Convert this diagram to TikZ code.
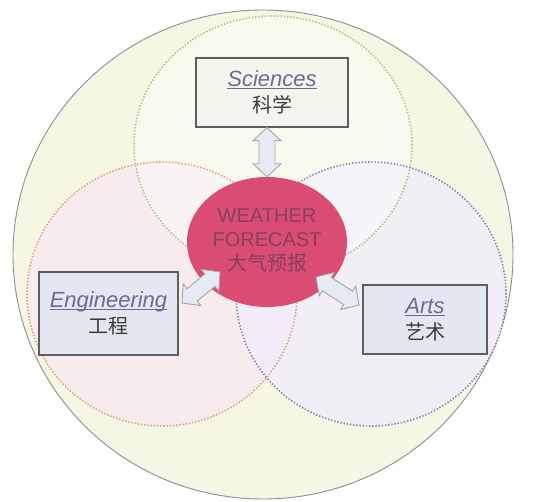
\documentclass[tikz,border=0pt]{standalone}
\usepackage{fontspec}
\setmainfont{Liberation Sans}
\newfontfamily\cjk{Noto Sans CJK SC}
\usetikzlibrary{shapes.geometric,calc}
\definecolor{bgyellow}{HTML}{F5F6E3}
\definecolor{rimgray}{HTML}{8E8E8E}
\definecolor{pinkfill}{HTML}{F8EAF0}
\definecolor{lavfill}{HTML}{F1EDFA}
\definecolor{greendot}{HTML}{A6C888}
\definecolor{orangedot}{HTML}{E0A27C}
\definecolor{purpledot}{HTML}{8484B4}
\definecolor{wfpink}{HTML}{DA4C72}
\definecolor{wftext}{HTML}{86425C}
\definecolor{catcol}{HTML}{6C6A92}
\definecolor{cncol}{HTML}{3C3C3C}
\definecolor{boxline}{HTML}{5E5E5E}
\definecolor{boxblue}{HTML}{E3E7F1}
\definecolor{boxcream}{HTML}{F5F5EE}
\definecolor{arrowfill}{HTML}{E6EAF3}
\definecolor{arrowgray}{HTML}{A2A6AC}
\newsavebox\ulbox
\newcommand\catname[1]{\sbox\ulbox{\color{catcol}\itshape #1}{\color{catcol}\rlap{\rule[-2.5pt]{\wd\ulbox}{1pt}}}\usebox\ulbox}
\newcommand\cnname[1]{{\cjk\fontsize{20}{26}\selectfont\textcolor{cncol}{#1}}}
\begin{document}
\begin{tikzpicture}[x=1pt,y=-1pt,
  dotline/.style={line width=1.6pt, dash pattern=on 1.4pt off 1.8pt},
  catbox/.style={draw=boxline, line width=1.3pt, align=center, inner sep=0pt,
    font=\fontsize{22}{26}\selectfont},
  dbl/.style={draw=arrowgray, fill=arrowfill, line width=0.9pt, line join=miter,
    to path={
      -- ($(\tikztostart)!13pt!(\tikztotarget)!14pt!90:(\tikztotarget)$)
      -- ($(\tikztostart)!13pt!(\tikztotarget)!8pt!90:(\tikztotarget)$)
      -- ($(\tikztotarget)!13pt!(\tikztostart)!8pt!-90:(\tikztostart)$)
      -- ($(\tikztotarget)!13pt!(\tikztostart)!14pt!-90:(\tikztostart)$)
      -- (\tikztotarget)
      -- ($(\tikztotarget)!13pt!(\tikztostart)!14pt!90:(\tikztostart)$)
      -- ($(\tikztotarget)!13pt!(\tikztostart)!8pt!90:(\tikztostart)$)
      -- ($(\tikztostart)!13pt!(\tikztotarget)!8pt!-90:(\tikztotarget)$)
      -- ($(\tikztostart)!13pt!(\tikztotarget)!14pt!-90:(\tikztotarget)$)
      -- cycle}}]
\useasboundingbox (0,0) rectangle (548,502);
\fill[white] (0,0) rectangle (548,502);
% outer circle
\draw[fill=bgyellow, draw=rimgray, line width=0.9pt] (263,254.5) ellipse [x radius=250pt, y radius=244.5pt];
% three overlapping circles: fills
\fill[pinkfill, opacity=0.85] (162,294) ellipse [x radius=135pt, y radius=132pt];
\fill[lavfill, opacity=0.85] (371,294) ellipse [x radius=135pt, y radius=132pt];
\fill[white, opacity=0.4] (273,145) ellipse [x radius=139pt, y radius=129pt];
% dotted outlines
\draw[dotline, greendot] (273,145) ellipse [x radius=139pt, y radius=129pt];
\draw[dotline, orangedot] (162,294) ellipse [x radius=135pt, y radius=132pt];
\draw[dotline, purpledot] (371,294) ellipse [x radius=135pt, y radius=132pt];
% centre
\node[ellipse, fill=wfpink, minimum width=160pt, minimum height=130pt, inner sep=0pt,
  text=wftext, font=\fontsize{20}{24}\selectfont] (wf) at (267,242)
  {\raisebox{6pt}{\begin{tabular}{@{}c@{}}WEATHER\\FORECAST\\{\cjk 大气预报}\end{tabular}}};
% category boxes
\node[catbox, fill=boxcream, minimum width=152pt, minimum height=69pt] (sci) at (272,92.5)
  {\catname{Sciences}\\\cnname{科学}};
\node[catbox, fill=boxblue, minimum width=139pt, minimum height=83pt] (eng) at (108.5,313.5)
  {\catname{Engineering}\\\cnname{工程}};
\node[catbox, fill=boxblue, minimum width=124pt, minimum height=69pt] (arts) at (425,319.5)
  {\catname{Arts}\\\cnname{艺术}};
% arrow end points
\coordinate (engtip) at (182,303);
\coordinate (wfsw) at (220,272);
\coordinate (wfse) at (316,277);
\coordinate (artstip) at (359,305);
% double arrows
\draw[dbl] (wf.north |- sci.south) to (wf.north);
\draw[dbl] (engtip) to (wfsw);
\draw[dbl] (wfse) to (artstip);
\end{tikzpicture}
\end{document}
